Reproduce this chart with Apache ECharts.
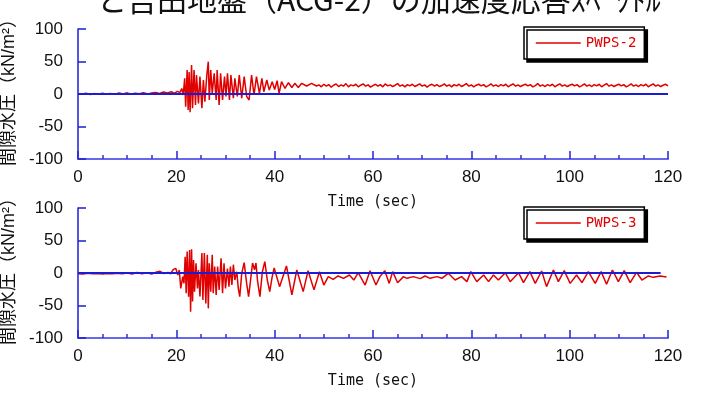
<!DOCTYPE html>
<html><head><meta charset="utf-8">
<script src="https://cdn.jsdelivr.net/npm/echarts@6/dist/echarts.min.js"></script>
<style>html,body{margin:0;padding:0;background:#fff}#c{width:702px;height:394px}</style>
</head><body><div id="c"></div>
<script>
const titleText = 'と吉田地盤（ACG-2）の加速度応答ｽﾍﾟｸﾄﾙ';
const yAxisName = '間隙水圧（kN/m²）';
const xAxisName = 'Time (sec)';
const seriesNames = ['PWPS-2', 'PWPS-3'];
const xRange = [0, 120];
const yRange = [-100, 100];

// PWPS-2 (upper panel)
const pwps2Time = [0,0.8,1.6,2.5,3.3,4.2,5,5.8,6.6,7.5,8.3,9.2,10,10.8,11.6,12.5,13.3,14.2,15,15.8,16.6,17.4,18.2,19,19.6,20.2,20.7,
21.1,21.4,21.7,21.9,22.2,22.4,22.6,22.8,23.1,23.3,23.6,23.9,24.1,24.5,24.8,25.2,25.5,25.8,26.2,26.5,26.7,27.0,27.3,27.7,28.1,28.3,28.7,29.0,29.4,29.8,30.1,30.4,30.8,31.1,31.6,31.9,32.4,32.8,33.3,33.8,34.3,34.8,35.3,35.8,36.3,36.9,37.4,37.8,38.4,38.9,39.5,40.0,40.5,40.9,41.4,42.1,42.8,43.5,44.1,44.8,45.5,46.5,47.5,48.5,
49,49.5,50,50.5,51,51.5,52,52.5,53,53.5,54,54.5,55,55.5,56,56.5,57,57.5,58,58.5,59,59.5,60,60.5,61,61.5,62,62.5,63,63.5,64,64.5,65,65.5,66,66.5,67,67.5,68,68.5,69,69.5,70,70.5,71,71.5,72,72.5,73,73.5,74,74.5,75,75.5,76,76.5,77,77.5,78,78.5,79,79.5,80,80.5,81,81.5,82,82.5,83,83.5,84,84.5,85,85.5,86,86.5,87,87.5,88,88.5,89,89.5,90,90.5,91,91.5,92,92.5,93,93.5,94,94.5,95,95.5,96,96.5,97,97.5,98,98.5,99,99.5,100,100.5,101,101.5,102,102.5,103,103.5,104,104.5,105,105.5,106,106.5,107,107.5,108,108.5,109,109.5,110,110.5,111,111.5,112,112.5,113,113.5,114,114.5,115,115.5,116,116.5,117,117.5,118,118.5,119,119.5,120];
const pwps2Value = [0.5,-0.5,1,-0.8,0.6,-0.5,1.2,-0.3,0.8,-0.6,1.5,0,1.8,-0.5,1.2,0.3,2,0,1.5,2.5,0.8,3,1.5,3.5,1,4,2,
8.5,-1.5,24,-19.5,37,-24.6,34,-28,44.6,-22,37,-17,29,-14.4,26.7,-22,21.5,-11.8,29,49.7,-9.2,37,1,31.8,-9.2,37,-17,31.8,-9.2,26.7,-3.6,31.8,-9,29,-6.6,24,-3.6,29,-6.6,26.7,-3.6,-9.2,29,-1.5,26.7,1,24,3.5,21.5,6,19,7,20.5,1,19,8.5,17.4,10,16.4,10,16.4,12.3,16.4,12.3,
14,11,15,12,14.5,10.5,13.5,15.5,11.5,14,12,16,11,14,12.5,15,11,13.5,15.5,12,14,10.5,13,15,12,14.5,11,15.5,12.5,14,11.5,13.5,16,12,14,11,14.5,12.5,15,11.5,13.5,15.5,12,14,10.5,13.5,15,12,14.5,11.5,13,15.5,12,14,11,14.5,12.5,15,11.5,13.5,16,12,14,11,13.5,15,12.5,14.5,11,13,15.5,12,14,11.5,14.5,12.5,15,11,13.5,15.5,12,14,11.5,13.5,15,12.5,14.5,11,13,16,12,14,11.5,14.5,12.5,15,11,13.5,15.5,12,14,11.5,13.5,15,12.5,14.5,11,13,15.5,12,14,11.5,14.5,12.5,15,11,13.5,16,12,14,11.5,13.5,15,12.5,14.5,11,13,15.5,12,14,11.5,14.5,12.5,15,11,13.5,15.5,12,14,11.5,13.5,15,12.5];

// PWPS-3 (lower panel)
const pwps3Time = [0,1,2,3,4,5,6,7,8,9,10,11,12,13,14,15,15.8,16.7,17.5,18.3,18.8,
19.4,19.9,20.3,20.6,20.9,21.3,21.55,21.8,22.0,22.2,22.5,22.7,22.9,23.1,23.3,23.5,23.7,24.0,24.3,24.5,24.8,25.2,25.4,25.7,26.0,26.3,26.5,26.7,27.0,27.3,27.5,27.8,28.1,28.4,28.7,29.1,29.4,29.7,30.0,30.4,30.7,31.0,31.3,31.6,31.9,32.3,32.6,32.9,33.3,33.8,34.3,34.7,35.1,35.5,35.9,36.2,36.5,37.0,37.5,38.0,38.5,39.0,39.5,39.9,41.0,42.4,43.5,44.5,45.8,46.8,48.0,49.1,50.0,50.9,51.9,52.9,54.0,55.2,56.1,57.0,58.4,59.4,60.6,61.4,62.4,63.3,64.0,65.0,
66.2,66.9,68.2,69.6,70.6,71.6,73.0,74.0,75.3,76.7,78.0,79.1,79.9,81.1,82.5,83.5,84.5,85.5,86.9,87.9,89.6,90.6,91.9,93.0,94.3,95.3,96.7,97.7,98.9,100.1,101.4,102.5,103.8,105.2,106.4,107.5,108.7,109.9,111.1,112.3,113.6,114.7,116.0,117.0,118.4,119.7];
const pwps3Value = [-1,-1.5,-0.5,-1.2,-0.8,-1.5,-0.6,-1.3,-0.4,-1.2,-0.2,-1.5,0.8,-1,0.5,-1.5,1,2.6,-1,1,-1.2,
5.6,7,-3,4.5,-23.6,-5.6,-15.9,25,-31,33,-36.4,35.4,-59.5,36.4,-44,20,-28.7,15,-23.6,4.6,-36,30.8,-41.5,30.8,-46.7,28,-54.4,15,-28.7,28,-31,10,-33.8,10,-26,22.6,-31,15,-23.6,7,-21,10,-18.5,12.8,-10.8,2,-23.6,-36.4,-0.5,15.9,-15.9,-36.4,-10.8,15.4,5,15.4,-10.8,-36.4,2,17.4,-10.8,-28.7,-5.6,7.7,-21,10.8,-33.8,4.6,-28.7,3.6,-26,2,-18.5,-5.6,-9.7,-4.6,-8.2,-3.1,-10.8,0.5,-18.5,3.6,-18.5,-5.6,3.6,-16,2.1,-15,
-5.6,-8.2,-5.6,-8.7,-4.6,-8.2,-5.6,-8.2,-0.5,-10.8,-5.6,-13.3,2.1,-13.3,-3.1,-13.3,-3.1,-10.8,0.5,-13.3,0.5,-14.9,2.1,-15.9,3.1,-21,4.6,-13.3,3.6,-15.9,-3.1,-14.9,2.1,-15.9,2.1,-17.4,4.6,-13.3,3.6,-14.9,1.1,-10.8,-4.6,-6.7,-4.6,-6.2];

// zero reference lines
const zero2Time = [0, 120];
const zero3Time = [0, 118.5];
const zeroValue = [0, 0];

const zip = (t, v) => t.map((x, i) => [x, v[i]]);
const RED = '#e00000', BLUE = '#1c1cd4';

function xAx(gi) {
  return {
    type: 'value', gridIndex: gi, min: xRange[0], max: xRange[1], interval: 20,
    name: xAxisName, nameLocation: 'middle', nameGap: 36,
    nameTextStyle: { fontFamily: 'DejaVu Sans Mono', fontSize: 15, color: '#111' },
    axisLine: { show: true, onZero: false, lineStyle: { color: '#6868ee', width: 2 } },
    axisTick: { show: true, inside: true, length: 8, lineStyle: { color: '#2424d4', width: 1.5 } },
    minorTick: { show: true, splitNumber: 4, length: 4, lineStyle: { color: '#3030d8', width: 1.5 } },
    splitLine: { show: false }, minorSplitLine: { show: false },
    axisLabel: { color: '#111', fontSize: 17, fontFamily: 'Liberation Sans', margin: 10 }
  };
}
function yAx(gi) {
  return {
    type: 'value', gridIndex: gi, min: yRange[0], max: yRange[1], interval: 50,
    name: yAxisName, nameLocation: 'middle', nameRotate: 90, nameGap: 47,
    nameTextStyle: { fontFamily: 'Liberation Sans, Noto Sans CJK JP', fontSize: 18, color: '#111', padding: [0, 0, 0, 12] },
    axisLine: { show: true, onZero: false, lineStyle: { color: BLUE, width: 1.5 } },
    axisTick: { show: true, inside: true, length: 8, lineStyle: { color: BLUE, width: 1.5 } },
    splitLine: { show: false },
    axisLabel: { color: '#111', fontSize: 17, fontFamily: 'Liberation Sans', margin: 15 }
  };
}
function leg(name, top) {
  return {
    data: [name], left: 524, top: top, orient: 'horizontal',
    itemWidth: 45, itemHeight: 14, itemGap: 0,
    padding: [9, 8, 9, 11],
    backgroundColor: '#fff', borderColor: '#000', borderWidth: 1.5, borderRadius: 0,
    shadowColor: '#000', shadowBlur: 0, shadowOffsetX: 3, shadowOffsetY: 3,
    textStyle: { color: RED, fontFamily: 'DejaVu Sans Mono', fontSize: 14 },
    itemStyle: { opacity: 0 },
    lineStyle: { width: 1.5, opacity: 1 }
  };
}

const chart = echarts.init(document.getElementById('c'), null, { renderer: 'canvas' });
chart.setOption({
  animation: false,
  backgroundColor: '#fff',
  title: { text: titleText, left: 97, top: -15, padding: 0,
    textStyle: { fontFamily: 'Noto Sans CJK JP', fontSize: 30, fontWeight: 'normal', color: '#111' } },
  grid: [
    { left: 78, right: 34, top: 29, height: 130, containLabel: false, outerBoundsMode: 'none' },
    { left: 78, right: 34, top: 208, height: 130, containLabel: false, outerBoundsMode: 'none' }
  ],
  xAxis: [xAx(0), xAx(1)],
  yAxis: [yAx(0), yAx(1)],
  legend: [leg(seriesNames[0], 27), leg(seriesNames[1], 207)],
  series: [
    { type: 'line', name: seriesNames[0], xAxisIndex: 0, yAxisIndex: 0, data: zip(pwps2Time, pwps2Value),
      symbol: 'none', lineStyle: { color: RED, width: 1.5 }, itemStyle: { color: RED } },
    { type: 'line', name: 'zero2', xAxisIndex: 0, yAxisIndex: 0, data: zip(zero2Time, zeroValue),
      symbol: 'none', silent: true, lineStyle: { color: BLUE, width: 1.8 }, itemStyle: { color: BLUE } },
    { type: 'line', name: seriesNames[1], xAxisIndex: 1, yAxisIndex: 1, data: zip(pwps3Time, pwps3Value),
      symbol: 'none', lineStyle: { color: RED, width: 1.5 }, itemStyle: { color: RED } },
    { type: 'line', name: 'zero3', xAxisIndex: 1, yAxisIndex: 1, data: zip(zero3Time, zeroValue),
      symbol: 'none', silent: true, lineStyle: { color: BLUE, width: 1.8 }, itemStyle: { color: BLUE } }
  ]
});
</script></body></html>
